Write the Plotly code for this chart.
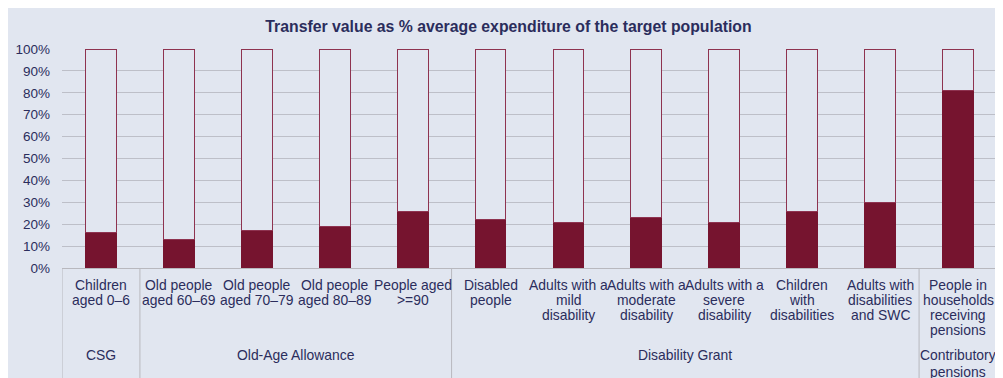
import plotly.graph_objects as go

categories = ["Children<br>aged 0–6", "Old people<br>aged 60–69", "Old people<br>aged 70–79",
              "Old people<br>aged 80–89", "People aged<br>>=90", "Disabled<br>people",
              "Adults with a<br>mild<br>disability", "Adults with a<br>moderate<br>disability",
              "Adults with a<br>severe<br>disability", "Children<br>with<br>disabilities",
              "Adults with<br>disabilities<br>and SWC", "People in<br>households<br>receiving<br>pensions"]
values = [16, 13, 17, 19, 26, 22, 21, 23, 21, 26, 30, 81]
groups = ["CSG", "Old-Age Allowance", "Disability Grant", "Contributory<br>pensions"]
group_sizes = [1, 4, 6, 1]
y_ticks = list(range(0, 101, 10))

BG = "#E1E6F0"
BAR = "#76142F"
TXT = "#2B2D5C"
GRID = "#BDBFC8"
PLOT_H = 219.0  # plot area height in px, used to convert label offsets

x = list(range(len(categories)))
remainder = [100 - v for v in values]

fig = go.Figure()
fig.add_trace(go.Bar(x=x, y=values, marker=dict(color=BAR, line=dict(color=BAR, width=1)),
                     width=0.395, showlegend=False, hoverinfo="skip"))
fig.add_trace(go.Bar(x=x, y=remainder, marker=dict(color=BG, line=dict(color="#8E3350", width=1)),
                     width=0.395, showlegend=False, hoverinfo="skip"))

shapes = []
annotations = []


def add_lines(xpos, text, first_offset, spacing):
    for i, line in enumerate(text.split("<br>")):
        off = first_offset + spacing * i
        annotations.append(dict(x=xpos, y=-off / PLOT_H, xref="x", yref="paper", text=line,
                                showarrow=False, yanchor="middle",
                                font=dict(size=13.9, color=TXT)))


start = 0
bounds = [-0.5]
for g, n in zip(groups, group_sizes):
    end = start + n
    bounds.append(end - 0.5)
    add_lines((start + end - 1) / 2, g, 87, 16.5)
    start = end
for b in bounds[:-1]:
    shapes.append(dict(type="line", xref="x", yref="paper", x0=b, x1=b, y0=0, y1=-0.6,
                       line=dict(color="#B8B8BE", width=1)))

for xi, c in zip(x, categories):
    add_lines(xi, c, 16.5, 15.3)

fig.update_layout(
    width=995, height=370,
    margin=dict(l=54, r=6, t=41, b=110),
    paper_bgcolor=BG, plot_bgcolor=BG,
    barmode="stack",
    font=dict(family="Liberation Sans, Arial, sans-serif", color=TXT, size=13),
    title=dict(text="<b>Transfer value as % average expenditure of the target population</b>",
               x=0.503, xanchor="center", y=0.951, yanchor="middle",
               font=dict(size=15.8, color=TXT)),
    xaxis=dict(range=[-0.5, len(categories) - 0.5], showticklabels=False, showgrid=False,
               zeroline=False, showline=True, linecolor="#B8B8BE", linewidth=1, ticks=""),
    yaxis=dict(range=[0, 100], tickvals=y_ticks, ticktext=[f"{v}%" for v in y_ticks],
               showgrid=True, gridcolor=GRID, gridwidth=1, zeroline=False, showline=False,
               ticks="", ticklabelstandoff=11, tickfont=dict(size=13.5, color=TXT)),
    shapes=shapes, annotations=annotations,
)

fig.write_html("out.html")
